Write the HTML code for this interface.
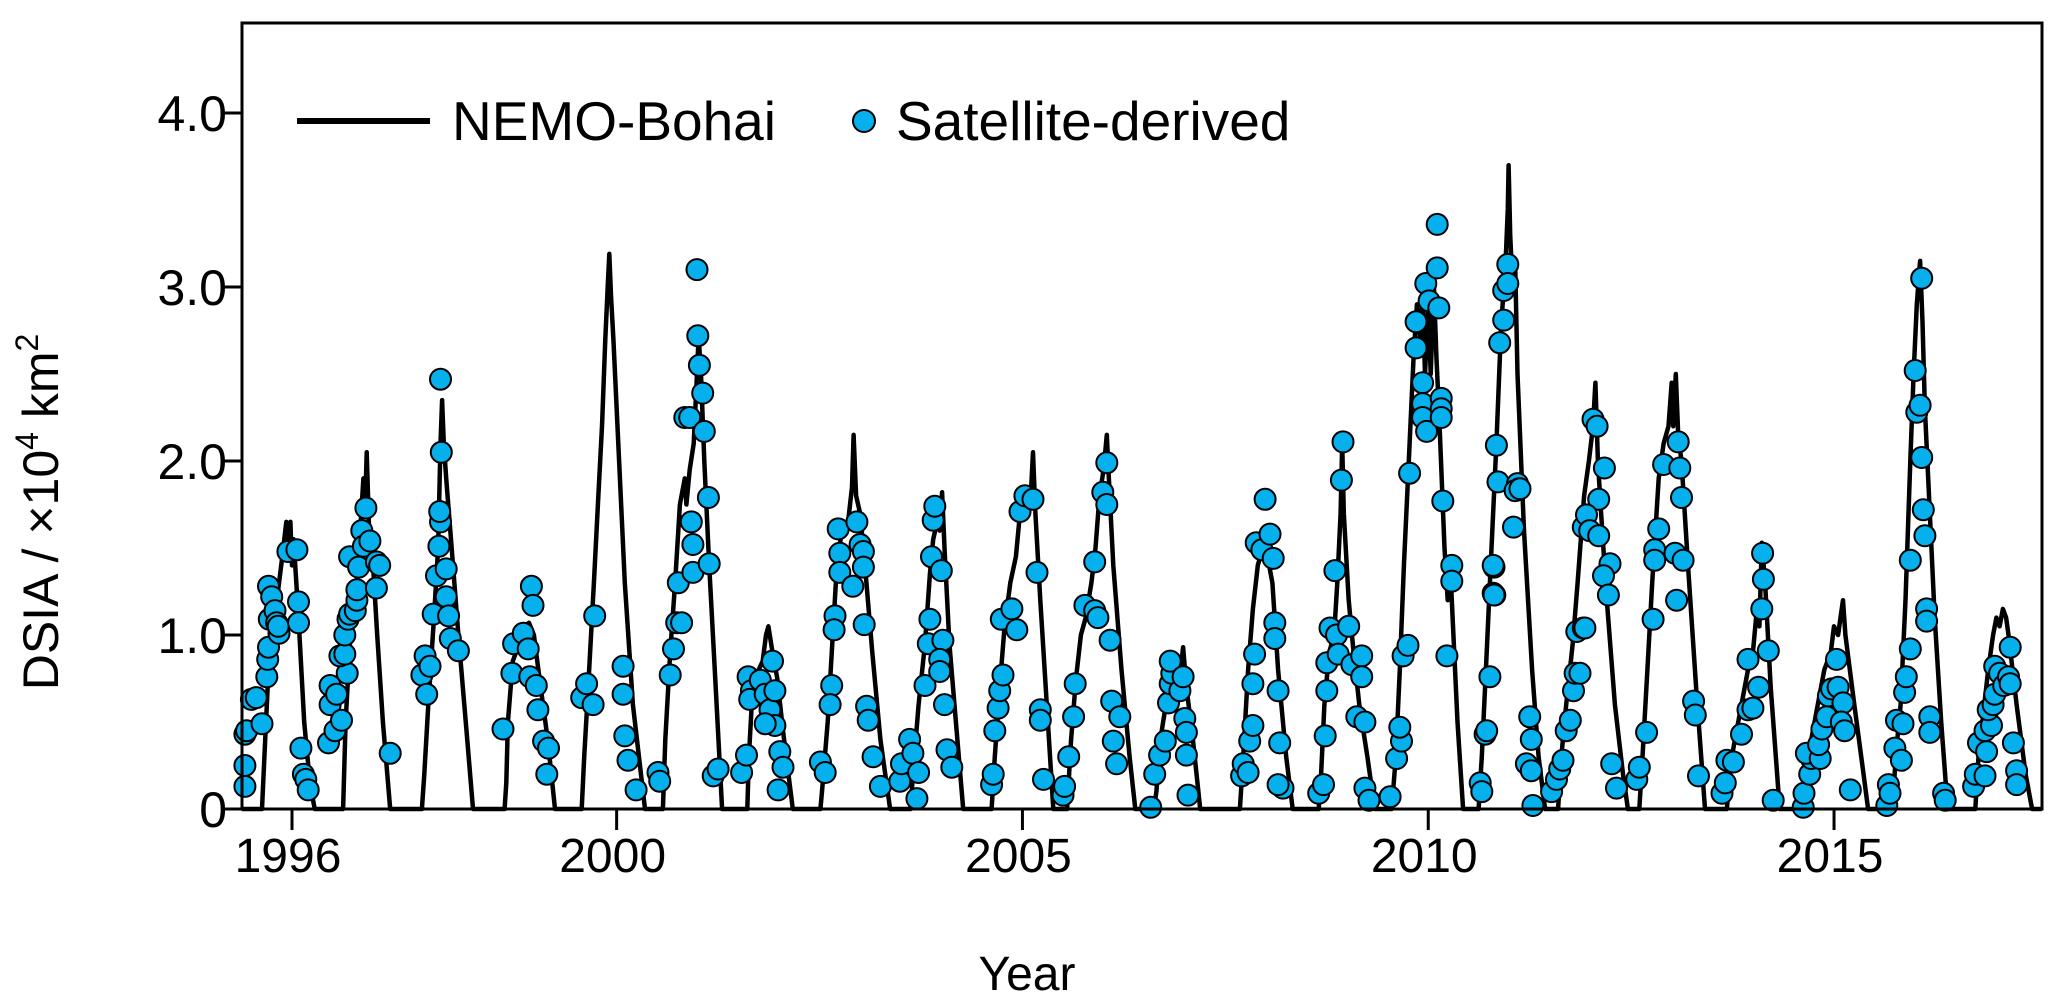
<!DOCTYPE html>
<html><head><meta charset="utf-8"><style>
html,body{margin:0;padding:0;background:#fff;}
svg{display:block;font-family:"Liberation Sans",Arial,sans-serif;}
</style></head><body>
<svg id="chart" width="2067" height="1001" viewBox="0 0 2067 1001" xmlns="http://www.w3.org/2000/svg">
<rect width="2067" height="1001" fill="#fff"/>
<g id="lineLayer"></g>
<g id="ptLayer"></g>
<rect x="242" y="23" width="1800" height="786" fill="none" stroke="#000" stroke-width="3"/>
<g id="axes"></g>
<text transform="translate(58,512) rotate(-90)" text-anchor="middle" font-size="50">DSIA / ×10<tspan font-size="32" dy="-20">4</tspan><tspan dy="20"> km</tspan><tspan font-size="32" dy="-20">2</tspan></text>
<text x="1027" y="990" text-anchor="middle" font-size="48">Year</text>
<g>
<line x1="297" y1="121" x2="430" y2="121" stroke="#000" stroke-width="6"/>
<text x="452" y="140" font-size="55">NEMO-Bohai</text>
<circle cx="864" cy="121" r="11" fill="#05b0ec" stroke="#000" stroke-width="2"/>
<text x="896" y="140" font-size="55">Satellite-derived</text>
</g>
</svg>
<script>
const yTicks=[0,1.0,2.0,3.0,4.0];
const yTickLabels=["0","1.0","2.0","3.0","4.0"];
const xTicks=[1996,2000,2005,2010,2015];
const xTickLabels=["1996","2000","2005","2010","2015"];
const lineT=[1995.38,1995.63,1995.66,1995.72,1995.8,1995.88,1995.93,1995.96,1995.98,1996.0,1996.02,1996.08,1996.15,1996.22,1996.28,
1996.63,1996.66,1996.72,1996.8,1996.86,1996.88,1996.9,1996.92,1996.95,1996.98,1997.05,1997.12,1997.21,
1997.60,1997.63,1997.68,1997.75,1997.8,1997.83,1997.85,1997.87,1997.9,1997.95,1998.05,1998.15,1998.23,
1998.62,1998.64,1998.66,1998.72,1998.8,1998.86,1998.92,1998.98,1999.05,1999.15,1999.24,
1999.57,1999.6,1999.65,1999.72,1999.78,1999.82,1999.86,1999.89,1999.91,1999.93,1999.96,2000.02,2000.1,2000.2,2000.35,
2000.57,2000.6,2000.66,2000.72,2000.78,2000.84,2000.86,2000.9,2000.95,2000.99,2001.01,2001.04,2001.08,2001.14,2001.22,2001.30,
2001.61,2001.63,2001.67,2001.75,2001.8,2001.84,2001.87,2001.92,2001.98,2002.05,2002.17,
2002.51,2002.53,2002.6,2002.67,2002.72,2002.78,2002.84,2002.9,2002.92,2002.95,2003.0,2003.05,2003.15,2003.25,2003.37,
2003.62,2003.66,2003.72,2003.8,2003.86,2003.9,2003.95,2003.98,2004.01,2004.04,2004.1,2004.18,2004.27,
2004.62,2004.66,2004.72,2004.78,2004.85,2004.92,2004.98,2005.05,2005.1,2005.13,2005.16,2005.22,2005.3,2005.38,
2005.55,2005.6,2005.66,2005.72,2005.78,2005.85,2005.9,2005.95,2006.0,2006.04,2006.07,2006.12,2006.22,2006.32,2006.39,
2006.62,2006.65,2006.7,2006.75,2006.82,2006.9,2006.95,2006.98,2007.02,2007.1,2007.19,
2007.68,2007.72,2007.78,2007.84,2007.9,2007.96,2008.02,2008.08,2008.15,2008.25,2008.33,
2008.65,2008.68,2008.72,2008.78,2008.84,2008.88,2008.92,2008.94,2008.96,2009.02,2009.08,2009.15,2009.25,2009.34,
2009.55,2009.6,2009.65,2009.7,2009.76,2009.82,2009.86,2009.9,2009.93,2009.96,2010.0,2010.03,2010.07,2010.1,2010.14,2010.2,2010.24,2010.27,2010.3,2010.36,2010.43,
2010.62,2010.66,2010.72,2010.78,2010.84,2010.9,2010.95,2010.98,2010.99,2011.01,2011.04,2011.07,2011.1,2011.18,2011.28,2011.36,2011.44,
2011.6,2011.64,2011.7,2011.78,2011.84,2011.92,2011.98,2012.03,2012.06,2012.09,2012.13,2012.2,2012.3,2012.4,2012.46,
2012.6,2012.64,2012.7,2012.76,2012.84,2012.9,2012.96,2013.0,2013.02,2013.05,2013.08,2013.12,2013.2,2013.3,2013.41,
2013.68,2013.72,2013.8,2013.88,2013.94,2014.0,2014.05,2014.08,2014.11,2014.15,2014.22,2014.33,
2014.6,2014.65,2014.72,2014.8,2014.88,2014.96,2015.0,2015.05,2015.08,2015.11,2015.14,2015.25,2015.35,2015.42,
2015.72,2015.76,2015.82,2015.88,2015.94,2015.98,2016.02,2016.06,2016.09,2016.12,2016.16,2016.24,2016.32,2016.4,
2016.74,2016.78,2016.84,2016.9,2016.96,2017.0,2017.04,2017.08,2017.12,2017.15,2017.25,2017.36,2017.44,2017.56];
const lineV=[0,0,0.3,0.9,1.15,1.45,1.65,1.5,1.65,1.4,1.55,1.1,0.5,0.15,0,
0,0.5,1.0,1.3,1.75,1.9,1.7,2.05,1.6,1.55,1.0,0.5,0,
0,0.2,0.6,1.1,1.5,2.1,2.35,2.1,1.9,1.6,1.0,0.45,0,
0,0.15,0.5,0.85,0.95,1.05,1.07,1.0,0.75,0.4,0,
0,0.3,0.7,1.3,1.85,2.2,2.7,3.0,3.19,2.95,2.7,2.1,1.3,0.6,0,
0,0.4,0.9,1.3,1.75,1.9,1.75,1.95,2.1,2.5,2.72,2.5,2.0,1.4,0.7,0,
0,0.3,0.65,0.8,0.85,1.0,1.05,0.9,0.75,0.45,0,
0,0.1,0.5,1.05,1.45,1.6,1.6,1.85,2.15,1.8,1.7,1.45,0.9,0.4,0,
0,0.25,0.6,0.95,1.35,1.55,1.65,1.6,1.82,1.5,0.95,0.5,0,
0,0.3,0.7,1.05,1.3,1.45,1.75,1.7,1.78,2.05,1.7,1.2,0.6,0,
0,0.4,0.75,1.0,1.1,1.3,1.5,1.8,1.95,2.15,1.85,1.4,0.8,0.3,0,
0,0.1,0.4,0.55,0.7,0.78,0.8,0.93,0.7,0.4,0,
0,0.3,0.8,1.15,1.4,1.5,1.45,1.3,0.8,0.3,0,
0,0.2,0.6,0.9,1.0,1.3,1.7,2.1,1.7,1.2,0.9,0.6,0.3,0,
0,0.3,0.8,1.4,2.0,2.6,2.9,2.7,2.95,2.5,2.9,2.5,3.0,2.6,2.2,1.5,1.2,1.4,1.1,0.5,0,
0,0.3,0.9,1.5,2.1,2.8,3.1,3.45,3.7,3.3,3.0,3.15,2.5,1.6,0.8,0.3,0,
0,0.3,0.6,0.95,1.3,1.8,2.0,2.2,2.45,2.0,1.7,1.2,0.6,0.2,0,
0,0.3,0.8,1.3,1.9,2.1,2.2,2.45,2.2,2.5,2.15,2.0,1.4,0.7,0,
0,0.25,0.45,0.65,0.8,0.9,1.15,1.05,1.53,1.3,0.7,0,
0,0.2,0.4,0.6,0.8,0.9,1.05,1.0,1.1,1.2,1.0,0.6,0.25,0,
0,0.3,0.6,1.2,2.0,2.5,2.9,3.15,2.8,2.3,1.9,1.1,0.5,0,
0,0.3,0.55,0.8,1.0,1.1,1.05,1.15,1.1,1.0,0.6,0.2,0,0];
const satT=[1995.42,1995.42,1995.42,1995.44,1995.50,1995.56,1995.63,1995.69,1995.70,1995.71,1995.72,1995.71,1995.75,1995.79,1995.81,1995.84,1995.83,1995.95,1996.06,1996.08,1996.08,1996.11,1996.14,1996.17,1996.20,
1996.45,1996.47,1996.47,1996.53,1996.55,1996.61,1996.68,1996.59,1996.65,1996.65,1996.69,1996.71,1996.78,1996.80,1996.80,1996.71,1996.82,1996.86,1996.91,1996.88,1996.96,1997.04,1997.08,1997.04,1997.21,
1997.60,1997.66,1997.64,1997.70,1997.74,1997.78,1997.81,1997.83,1997.82,1997.84,1997.83,1997.90,1997.90,1997.93,1997.95,1998.05,
1998.60,1998.71,1998.73,1998.85,1998.91,1998.95,1998.97,1998.93,1999.01,1999.03,1999.10,1999.16,1999.14,
1999.57,1999.63,1999.71,1999.73,2000.08,2000.08,2000.10,2000.14,2000.24,
2000.51,2000.53,2000.66,2000.70,2000.74,2000.76,2000.84,2000.90,2001.06,2001.08,2001.13,2000.92,2000.94,2000.94,2001.14,2000.80,2001.19,2001.25,2000.99,2001.00,2001.02,
2001.54,2001.60,2001.62,2001.66,2001.64,2001.77,2001.83,2001.89,2001.95,2001.83,2001.92,2001.95,2002.01,2002.05,2001.99,
2002.51,2002.57,2002.65,2002.63,2002.69,2002.68,2002.73,2002.75,2002.75,2002.96,2003.00,2003.04,2003.04,2002.91,2003.05,2003.08,2003.10,2003.16,2003.25,
2003.49,2003.51,2003.61,2003.65,2003.72,2003.70,2003.80,2003.84,2003.86,2003.88,2003.90,2003.92,2004.00,2004.02,2003.98,2003.98,2004.04,2004.07,2004.13,
2004.62,2004.64,2004.66,2004.70,2004.72,2004.76,2004.74,2004.87,2004.93,2004.97,2005.03,2005.13,2005.18,2005.22,2005.22,2005.26,
2005.50,2005.52,2005.57,2005.63,2005.65,2005.77,2005.89,2005.93,2005.89,2005.99,2006.04,2006.04,2006.08,2006.10,2006.20,2006.12,2006.16,
2006.58,2006.63,2006.69,2006.76,2006.80,2006.82,2006.84,2006.82,2006.94,2006.98,2007.00,2007.02,2007.02,2007.04,
2007.70,2007.72,2007.78,2007.80,2007.84,2007.84,2007.86,2007.88,2007.95,2007.99,2008.05,2008.09,2008.11,2008.11,2008.15,2008.17,2008.21,2008.15,
2008.65,2008.71,2008.73,2008.75,2008.75,2008.79,2008.87,2008.89,2009.02,2009.06,2009.18,2009.18,2009.12,2009.22,2008.85,2008.93,2008.95,2009.22,2009.27,
2009.53,2009.61,2009.67,2009.65,2009.69,2009.75,2009.77,2009.85,2009.85,2009.97,2010.11,2010.11,2010.01,2010.13,2009.93,2009.93,2009.93,2009.98,2010.16,2010.16,2010.16,2010.18,2010.29,2010.29,2010.23,
2010.64,2010.66,2010.70,2010.72,2010.76,2010.80,2010.82,2010.81,2010.84,2010.86,2010.80,2010.81,2010.88,2010.93,2010.93,2010.98,2010.98,2011.10,2011.12,2011.05,2011.07,2011.13,2011.25,2011.27,2011.21,2011.27,2011.29,
2011.52,2011.58,2011.62,2011.66,2011.70,2011.75,2011.79,2011.81,2011.83,2011.91,2011.91,2012.03,2012.08,2012.17,2012.10,2011.95,2011.99,2012.10,2012.24,2012.16,2012.22,2011.93,2011.87,2012.26,2012.32,
2012.57,2012.60,2012.69,2012.77,2012.79,2012.79,2012.84,2012.90,2013.04,2013.08,2013.10,2013.14,2013.12,2013.06,2013.27,2013.29,2013.33,
2013.62,2013.66,2013.68,2013.76,2013.86,2013.94,2014.00,2014.07,2013.94,2014.11,2014.13,2014.12,2014.19,2014.25,
2014.62,2014.63,2014.70,2014.72,2014.66,2014.83,2014.81,2014.85,2014.91,2014.93,2014.97,2015.03,2015.05,2015.11,2015.09,2015.13,2015.20,
2015.65,2015.67,2015.69,2015.75,2015.83,2015.77,2015.85,2015.87,2015.89,2015.94,2015.94,2016.10,2016.12,2016.08,2016.02,2016.06,2016.00,2016.08,2016.14,2016.14,2016.18,2016.18,2016.35,2016.37,
2016.72,2016.74,2016.78,2016.86,2016.88,2016.86,2016.94,2016.90,2016.96,2016.98,2016.98,2017.04,2017.09,2017.15,2017.17,2017.17,2017.21,2017.25,2017.25];
const satV=[0.13,0.25,0.43,0.45,0.63,0.64,0.49,0.76,0.86,0.93,1.09,1.28,1.22,1.14,1.07,1.01,1.05,1.48,1.49,1.19,1.07,0.35,0.20,0.17,0.11,
0.38,0.60,0.71,0.45,0.66,0.51,0.78,0.88,0.89,1.00,1.09,1.12,1.14,1.20,1.26,1.45,1.39,1.60,1.73,1.51,1.54,1.42,1.40,1.27,0.32,
0.77,0.66,0.88,0.82,1.12,1.34,1.51,1.65,1.71,2.05,2.47,1.38,1.22,1.11,0.98,0.91,
0.46,0.78,0.95,1.01,0.92,1.28,1.17,0.76,0.71,0.57,0.39,0.35,0.20,
0.64,0.72,0.60,1.11,0.82,0.66,0.42,0.28,0.11,
0.21,0.16,0.77,0.92,1.07,1.30,2.25,2.25,2.39,2.17,1.79,1.65,1.52,1.36,1.41,1.07,0.19,0.23,3.10,2.72,2.55,
0.21,0.31,0.76,0.68,0.63,0.74,0.66,0.57,0.48,0.49,0.85,0.68,0.33,0.24,0.11,
0.27,0.21,0.71,0.60,1.11,1.03,1.61,1.47,1.36,1.65,1.52,1.48,1.39,1.28,1.06,0.59,0.51,0.30,0.13,
0.16,0.26,0.40,0.32,0.21,0.06,0.71,0.95,1.09,1.45,1.66,1.74,1.37,0.97,0.86,0.79,0.60,0.34,0.24,
0.14,0.20,0.45,0.58,0.68,0.77,1.09,1.15,1.03,1.71,1.80,1.78,1.36,0.57,0.51,0.17,
0.08,0.13,0.30,0.53,0.72,1.17,1.14,1.10,1.42,1.82,1.99,1.75,0.97,0.62,0.53,0.39,0.26,
0.01,0.20,0.31,0.39,0.61,0.72,0.78,0.85,0.68,0.76,0.52,0.44,0.31,0.08,
0.19,0.26,0.21,0.39,0.48,0.72,0.89,1.53,1.49,1.78,1.58,1.44,1.07,0.98,0.68,0.38,0.12,0.14,
0.09,0.14,0.42,0.68,0.84,1.04,1.00,0.89,1.05,0.83,0.88,0.76,0.53,0.50,1.37,1.89,2.11,0.12,0.05,
0.07,0.29,0.39,0.47,0.88,0.94,1.93,2.80,2.65,3.02,3.36,3.11,2.92,2.88,2.45,2.33,2.25,2.17,2.36,2.30,2.25,1.77,1.40,1.31,0.88,
0.15,0.10,0.43,0.45,0.76,1.24,1.23,1.39,2.09,1.88,1.40,1.23,2.68,2.98,2.81,3.13,3.02,1.87,1.84,1.62,1.83,1.84,0.53,0.40,0.26,0.22,0.02,
0.10,0.17,0.23,0.28,0.45,0.51,0.68,0.78,1.02,1.04,1.62,2.24,2.20,1.96,1.78,1.69,1.60,1.57,1.41,1.34,1.23,1.04,0.78,0.26,0.12,
0.17,0.24,0.44,1.09,1.49,1.43,1.61,1.98,1.47,2.11,1.96,1.43,1.79,1.20,0.62,0.54,0.19,
0.09,0.15,0.28,0.27,0.43,0.57,0.58,0.70,0.86,1.15,1.32,1.47,0.91,0.05,
0.01,0.09,0.20,0.29,0.32,0.29,0.37,0.46,0.53,0.65,0.69,0.86,0.70,0.61,0.50,0.45,0.11,
0.02,0.14,0.09,0.35,0.28,0.51,0.49,0.67,0.76,0.92,1.43,1.72,1.57,2.02,2.28,2.32,2.52,3.05,1.15,1.08,0.53,0.44,0.09,0.05,
0.13,0.20,0.38,0.19,0.33,0.45,0.48,0.57,0.60,0.66,0.82,0.78,0.71,0.76,0.72,0.93,0.38,0.22,0.14];

const NS='http://www.w3.org/2000/svg';
function xS(t){return 292+(t-1996)*81.16;}
function yS(v){return 809-v*174;}
function mk(tag,attrs,parent){const e=document.createElementNS(NS,tag);for(const k in attrs)e.setAttribute(k,attrs[k]);parent.appendChild(e);return e;}

const lineLayer=document.getElementById('lineLayer');
let d='';
for(let i=0;i<lineT.length;i++){d+=(i?'L':'M')+xS(lineT[i]).toFixed(1)+','+yS(lineV[i]).toFixed(1);}
const path=mk('path',{d:d,fill:'none',stroke:'#000','stroke-width':4.5,'stroke-linejoin':'round'},lineLayer);



const ptLayer=document.getElementById('ptLayer');
for(let i=0;i<satT.length;i++){
  const c=mk('circle',{cx:xS(satT[i]).toFixed(1),cy:yS(satV[i]).toFixed(1),r:10.5,fill:'#05b0ec',stroke:'#000','stroke-width':2},ptLayer);
  
  
}

const axes=document.getElementById('axes');
for(let i=0;i<yTicks.length;i++){
  const y=yS(yTicks[i]);
  const tk=mk('line',{x1:224,x2:242,y1:y,y2:y,stroke:'#000','stroke-width':3},axes);
  
  
  const tx=mk('text',{x:227,y:y+18,'text-anchor':'end','font-size':50},axes);
  tx.textContent=yTickLabels[i];
  
  
}
for(let i=0;i<xTicks.length;i++){
  const x=xS(xTicks[i]);
  const tk=mk('line',{x1:x,x2:x,y1:809,y2:830,stroke:'#000','stroke-width':3},axes);
  
  
  const tx=mk('text',{x:x-4,y:872,'text-anchor':'middle','font-size':48},axes);
  tx.textContent=xTickLabels[i];
  
  
}
</script>
</body></html>
